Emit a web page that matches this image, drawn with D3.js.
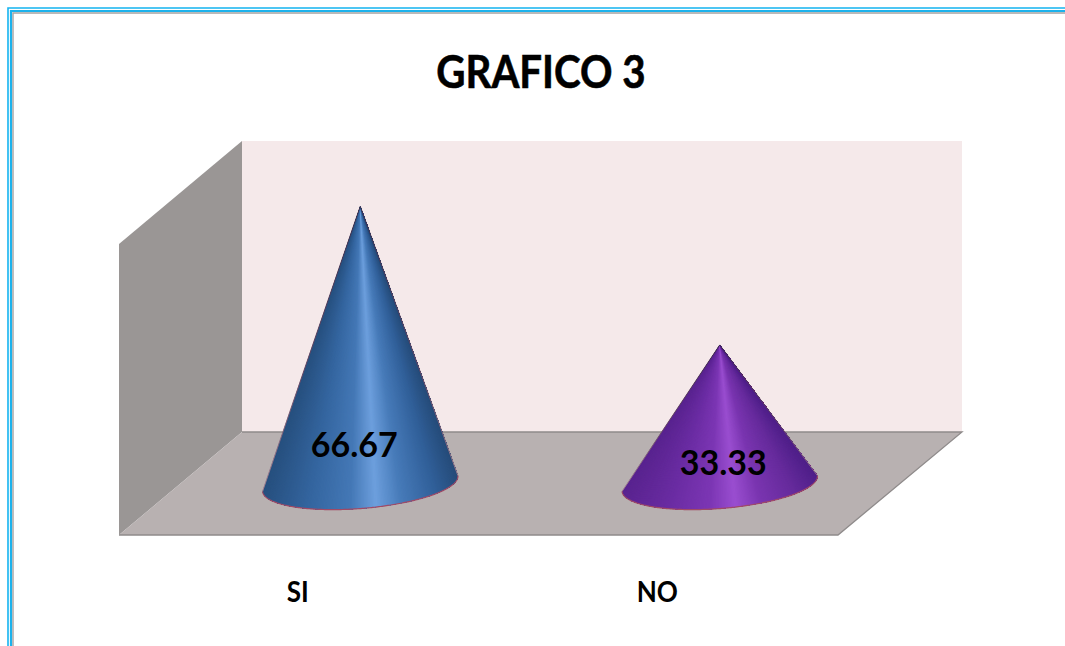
<!DOCTYPE html>
<html>
<head>
  <meta charset="utf-8">
  <!-- Load d3.js -->
  <script src="https://d3js.org/d3.v7.min.js"></script>
  <style>
    html, body { margin: 0; padding: 0; background: #fff; overflow: hidden; }
    text { font-family: Lato, "Open Sans", sans-serif; font-weight: 700; fill: #000; }
  </style>
</head>
<body>
<div id="chart"></div>
<script>
  var title = "GRAFICO 3";
  var categories = ["SI", "NO"];
  var values = [66.67, 33.33];
  var valueLabels = ["66.67", "33.33"];
  var axisMax = 70;

  // shading around each cone, from its left edge (-1) to its right edge (1)
  var shadeStops = [-1, -0.55, -0.12, 0.14, 0.4, 0.75, 1];
  var blueShades = ["#27507f", "#34659f", "#4478b6", "#6d9fdd", "#477bb9", "#31609a", "#264c7a"];
  var purpleShades = ["#5a2490", "#6a2ca2", "#7c36b4", "#9a4ed0", "#7a35b0", "#662b9c", "#50208a"];
  var shades = [blueShades, purpleShades];

  var width = 1065, height = 646;
  var floor = {left: 119, right: 838, front: 535};
  var depth = {x: 123, y: 103};

  var svg = d3.select("#chart").append("svg")
    .attr("width", width)
    .attr("height", height)
    .style("display", "block");

  var defs = svg.append("defs");

  // page frame, cut off on the right and at the bottom
  var frame = [
    {o: 8, w: 1.6, c: "#14b4f0"},
    {o: 11, w: 2.2, c: "#1cb2ec"},
    {o: 13, w: 1.4, c: "#a3a3a3"}
  ];
  frame.forEach(function (f) {
    svg.append("path")
      .attr("d", "M" + f.o + "," + height + "V" + f.o + "H" + width)
      .attr("fill", "none")
      .attr("stroke", f.c)
      .attr("stroke-width", f.w);
  });

  var x = d3.scaleBand().domain(categories).range([floor.left, floor.right]);
  var y = d3.scaleLinear().domain([0, axisMax]).range([floor.front, floor.front - 291]);

  var plot = svg.append("g");
  var line = d3.line();

  // back wall
  plot.append("path")
    .attr("d", line([
      [floor.left + depth.x, y(0) - depth.y],
      [floor.left + depth.x, y(axisMax) - depth.y],
      [floor.right + depth.x + 1, y(axisMax) - depth.y],
      [floor.right + depth.x + 1, y(0) - depth.y]
    ]) + "Z")
    .attr("fill", "#f5e9ea");

  // side wall
  plot.append("path")
    .attr("d", line([
      [floor.left, y(0)],
      [floor.left, y(axisMax)],
      [floor.left + depth.x, y(axisMax) - depth.y],
      [floor.left + depth.x, y(0) - depth.y]
    ]) + "Z")
    .attr("fill", "#9a9695");

  // floor
  plot.append("path")
    .attr("d", line([
      [floor.left, y(0)],
      [floor.right, y(0)],
      [floor.right + depth.x + 1, y(0) - depth.y],
      [floor.left + depth.x, y(0) - depth.y]
    ]) + "Z")
    .attr("fill", "#b8b1b1");

  // darker rim along the floor edges
  plot.append("path")
    .attr("d", line([
      [floor.left, y(0)],
      [floor.right, y(0)],
      [floor.right + depth.x + 1, y(0) - depth.y],
      [floor.left + depth.x, y(0) - depth.y]
    ]))
    .attr("fill", "none")
    .attr("stroke", "#8f8b8b")
    .attr("stroke-width", 1.3);

  // the cones are shaded with wedges running from the apex to the base ellipse,
  // each one painted over the last so no seams show between them
  var rx = 98, ry = 25, tilt = -4.6 * Math.PI / 180;
  var steps = 200;
  var labelShift = [[-6, -26.5], [3.5, -8.5]];

  function basePoint(cx, cy, a) {
    var px = rx * Math.cos(a), py = ry * Math.sin(a);
    return [cx + px * Math.cos(tilt) - py * Math.sin(tilt),
            cy + px * Math.sin(tilt) + py * Math.cos(tilt)];
  }

  // squeezed text, Lato runs wider than the face wanted here
  function label(px, py, size, squeeze, str) {
    return svg.append("text")
      .attr("transform", "translate(" + px + "," + py + ") scale(" + squeeze + ",1)")
      .attr("text-anchor", "middle")
      .style("font-size", size + "px")
      .text(str);
  }

  categories.forEach(function (c, i) {
    var cx = x(c) + x.bandwidth() / 2 + depth.x / 2;
    var cy = y(0) - depth.y / 2;
    var apex = [cx, y(values[i]) - depth.y / 2];
    var color = d3.scaleLinear().domain(shadeStops).range(shades[i]);
    var g = plot.append("g");

    // a = PI is the left end of the base, a = 0 the right end, going under the front
    var arc = d3.range(steps + 1).map(function (k) {
      return basePoint(cx, cy, Math.PI - Math.PI * k / steps);
    });
    g.selectAll("path.wedge")
      .data(d3.range(steps))
      .enter()
      .append("path")
        .attr("class", "wedge")
        .attr("d", function (k) { return line([apex].concat(arc.slice(k))) + "Z"; })
        .attr("fill", function (k) {
          return color(Math.cos(Math.PI - Math.PI * (k + 0.5) / steps));
        });

    // outline of the base, and the two sides fading towards the floor
    g.append("path")
      .attr("d", line(arc))
      .attr("fill", "none")
      .attr("stroke", "#a04a66")
      .attr("stroke-width", 1.2);

    var edge = defs.append("linearGradient")
      .attr("id", "edge" + i)
      .attr("gradientUnits", "userSpaceOnUse")
      .attr("x1", 0).attr("x2", 0)
      .attr("y1", apex[1]).attr("y2", cy);
    edge.append("stop").attr("offset", 0).attr("stop-color", "#3f2f4c");
    edge.append("stop").attr("offset", 0.6).attr("stop-color", "#6b4a66");
    edge.append("stop").attr("offset", 1).attr("stop-color", "#a08090");

    g.append("path")
      .attr("d", line([arc[0], apex, arc[steps]]))
      .attr("fill", "none")
      .attr("stroke", "url(#edge" + i + ")")
      .attr("stroke-width", 1);

    // value label
    label(cx + labelShift[i][0], cy + labelShift[i][1], 34, 1, valueLabels[i]);

    // category label
    label(x(c) + x.bandwidth() / 2 - 1, 602, 29, 0.9, c);
  });

  label(541, 88, 46, 0.875, title)
    .attr("stroke", "#000")
    .attr("stroke-width", 0.6);
</script>
</body>
</html>
